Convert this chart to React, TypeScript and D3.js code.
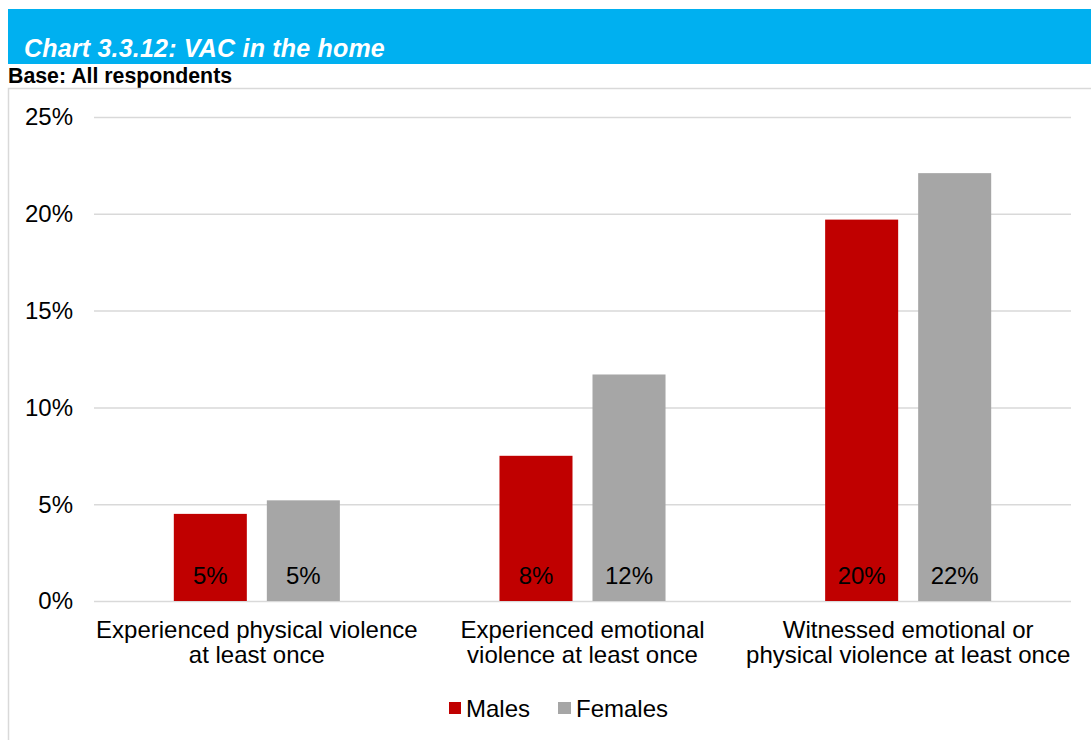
import React from "react";
import * as d3 from "d3";

const categories: string[][] = [
  ["Experienced physical violence", "at least once"],
  ["Experienced emotional", "violence at least once"],
  ["Witnessed emotional or", "physical violence at least once"],
];
const seriesNames = ["Males", "Females"];
const males = [4.5, 7.5, 19.7];
const females = [5.2, 11.7, 22.1];
const yTicks = [0, 5, 10, 15, 20, 25];

const W = 1091;
const H = 740;
const FONT = "Arial, 'Liberation Sans', Helvetica, sans-serif";
const colors = ["#C00000", "#A6A6A6"];

export default function App() {
  const catKeys = categories.map((c) => c.join(" "));
  const x0 = d3.scaleBand<string>().domain(catKeys).range([94, 1071]).padding(0);
  const x1 = d3
    .scaleBand<string>()
    .domain(seriesNames)
    .range([0, x0.bandwidth()])
    .paddingInner(0.215)
    .paddingOuter(0.858);
  const y = d3.scaleLinear().domain([0, 25]).range([601, 117]);
  const values = [males, females];

  return (
    <svg
      width={W}
      height={H}
      style={{ position: "absolute", left: 0, top: 0, background: "#fff" }}
      fontFamily={FONT}
    >
      {/* header banner */}
      <rect x={8} y={9} width={W - 8} height={55} fill="#00B0F0" />
      <text x={24} y={57} fill="#fff" fontSize={25} fontWeight="bold" fontStyle="italic" letterSpacing={0.2}>
        Chart 3.3.12: VAC in the home
      </text>
      <text x={8} y={83} fill="#000" fontSize={21.3} fontWeight="bold">
        Base: All respondents
      </text>

      {/* chart frame */}
      <rect x={8.5} y={88.5} width={W + 10} height={H} fill="none" stroke="#D9D9D9" strokeWidth={1.5} />

      {/* gridlines and y axis labels */}
      {yTicks.map((t) => (
        <g key={t}>
          <line x1={94} x2={1071} y1={y(t) + 0.5} y2={y(t) + 0.5} stroke="#D9D9D9" strokeWidth={1.5} />
          <text x={73} y={y(t)} dy="0.35em" textAnchor="end" fontSize={24} fill="#000">
            {t}%
          </text>
        </g>
      ))}

      {/* bars */}
      {catKeys.map((c, i) => (
        <g key={c} transform={`translate(${x0(c)},0)`}>
          {seriesNames.map((s, j) => {
            const v = values[j][i];
            const bx = x1(s)!;
            return (
              <g key={s}>
                <rect x={bx} y={y(v)} width={x1.bandwidth()} height={y(0) - y(v)} fill={colors[j]} />
                <text
                  x={bx + x1.bandwidth() / 2}
                  y={y(0) - 17}
                  textAnchor="middle"
                  fontSize={24}
                  fill="#000"
                >
                  {Math.round(v)}%
                </text>
              </g>
            );
          })}
        </g>
      ))}

      {/* category labels */}
      {categories.map((lines, i) => (
        <text
          key={i}
          x={x0(catKeys[i])! + x0.bandwidth() / 2}
          y={638}
          textAnchor="middle"
          fontSize={24}
          fill="#000"
        >
          {lines.map((l, k) => (
            <tspan key={k} x={x0(catKeys[i])! + x0.bandwidth() / 2} dy={k === 0 ? 0 : 25}>
              {l}
            </tspan>
          ))}
        </text>
      ))}

      {/* legend */}
      <g>
        <rect x={449} y={702} width={12} height={12} fill={colors[0]} />
        <text x={466} y={717} fontSize={24} fill="#000">
          {seriesNames[0]}
        </text>
        <rect x={558} y={702} width={13} height={12} fill={colors[1]} />
        <text x={576} y={717} fontSize={24} fill="#000">
          {seriesNames[1]}
        </text>
      </g>
    </svg>
  );
}
